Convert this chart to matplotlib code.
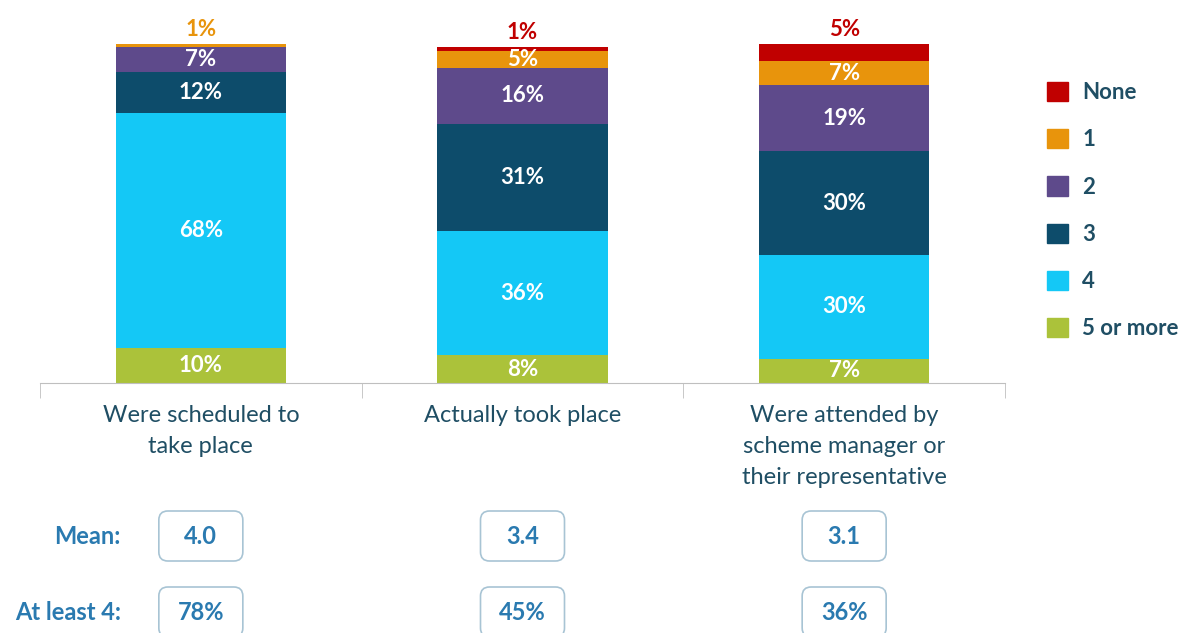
import matplotlib.pyplot as plt
from matplotlib.patches import FancyBboxPatch, Patch
from matplotlib.transforms import IdentityTransform
import numpy as np

plt.rcParams['font.family'] = ['Lato', 'DejaVu Sans']

# data
categories = ['Were scheduled to\ntake place', 'Actually took place',
              'Were attended by\nscheme manager or\ntheir representative']
levels = ['5 or more', '4', '3', '2', '1', 'None']
five_plus = [10, 8, 7]
four = [68, 36, 30]
three = [12, 31, 30]
two = [7, 16, 19]
one = [1, 5, 7]
none = [0, 1, 5]
means = ['4.0', '3.4', '3.1']
at_least_4 = ['78%', '45%', '36%']

colors = ['#ABC23A', '#14C8F6', '#0D4C6B', '#5E4A8B', '#E8940C', '#C00000']
text_teal = '#1F4E64'
blue = '#2A7AB0'

W, H = 1186, 633
fig = plt.figure(figsize=(W / 100, H / 100), dpi=100)
ax = fig.add_axes([40 / W, 250 / H, 965 / W, 346 / H])

x = np.arange(len(categories))
series = [five_plus, four, three, two, one, none]
totals = np.sum(series, axis=0)

# stacked bars, labels inside segments or above the bar for the top ones
bottom = np.zeros(len(categories))
for name, vals, col in zip(levels, series, colors):
    vals = np.array(vals, dtype=float)
    ax.bar(x, vals, bottom=bottom, width=0.53, color=col, label=name)
    for i, v in enumerate(vals):
        if v <= 0:
            continue
        if name == 'None' or v < 3:
            ax.annotate(f'{int(v)}%', (x[i], totals[i]), xytext=(0, 3),
                        textcoords='offset points', ha='center', va='bottom',
                        color=col, fontsize=16, fontweight='bold')
        else:
            ax.text(x[i], bottom[i] + v / 2, f'{int(v)}%', ha='center', va='center',
                    color='white', fontsize=16, fontweight='bold')
    bottom = bottom + vals

ax.set_xlim(-0.5, 2.5)
ax.set_ylim(0, 100)
ax.set_yticks([])
for s in ['top', 'right', 'left']:
    ax.spines[s].set_visible(False)
ax.spines['bottom'].set_color('#BFBFBF')
ax.set_xticks(x)
ax.set_xticklabels(categories, fontsize=17, color=text_teal, linespacing=1.58)
ax.tick_params(axis='x', which='major', length=0, pad=16)
ax.set_xticks([-0.5, 0.5, 1.5, 2.5], minor=True)
ax.tick_params(axis='x', which='minor', length=11, color='#BFBFBF', direction='out')

handles = [Patch(color=c) for c in colors][::-1]
fig.legend(handles, levels[::-1], loc='upper left', bbox_to_anchor=(1027 / W, 1 - 62 / H),
           frameon=False, handlelength=0.95, handleheight=0.95,
           handletextpad=0.63, labelspacing=1.17, labelcolor=text_teal,
           prop={'weight': 'bold', 'size': 16})

# summary rows under the chart
rows = [('Mean:', means, H - 536), ('At least 4:', at_least_4, H - 612)]
for label, vals, yc in rows:
    fig.text(121, yc, label, transform=IdentityTransform(), ha='right', va='center',
             color=blue, fontsize=17, fontweight='bold')
    for i, v in enumerate(vals):
        cx = ax.transData.transform((x[i], 0))[0]
        box = FancyBboxPatch((cx - 42, yc - 25), 84, 50,
                             boxstyle='round,pad=0,rounding_size=9',
                             transform=IdentityTransform(), facecolor='white',
                             edgecolor='#A8C4D4', lw=1.2)
        fig.add_artist(box)
        fig.text(cx, yc, v, transform=IdentityTransform(), ha='center', va='center',
                 color=blue, fontsize=17, fontweight='bold')

fig.savefig('out.png', dpi=100)
